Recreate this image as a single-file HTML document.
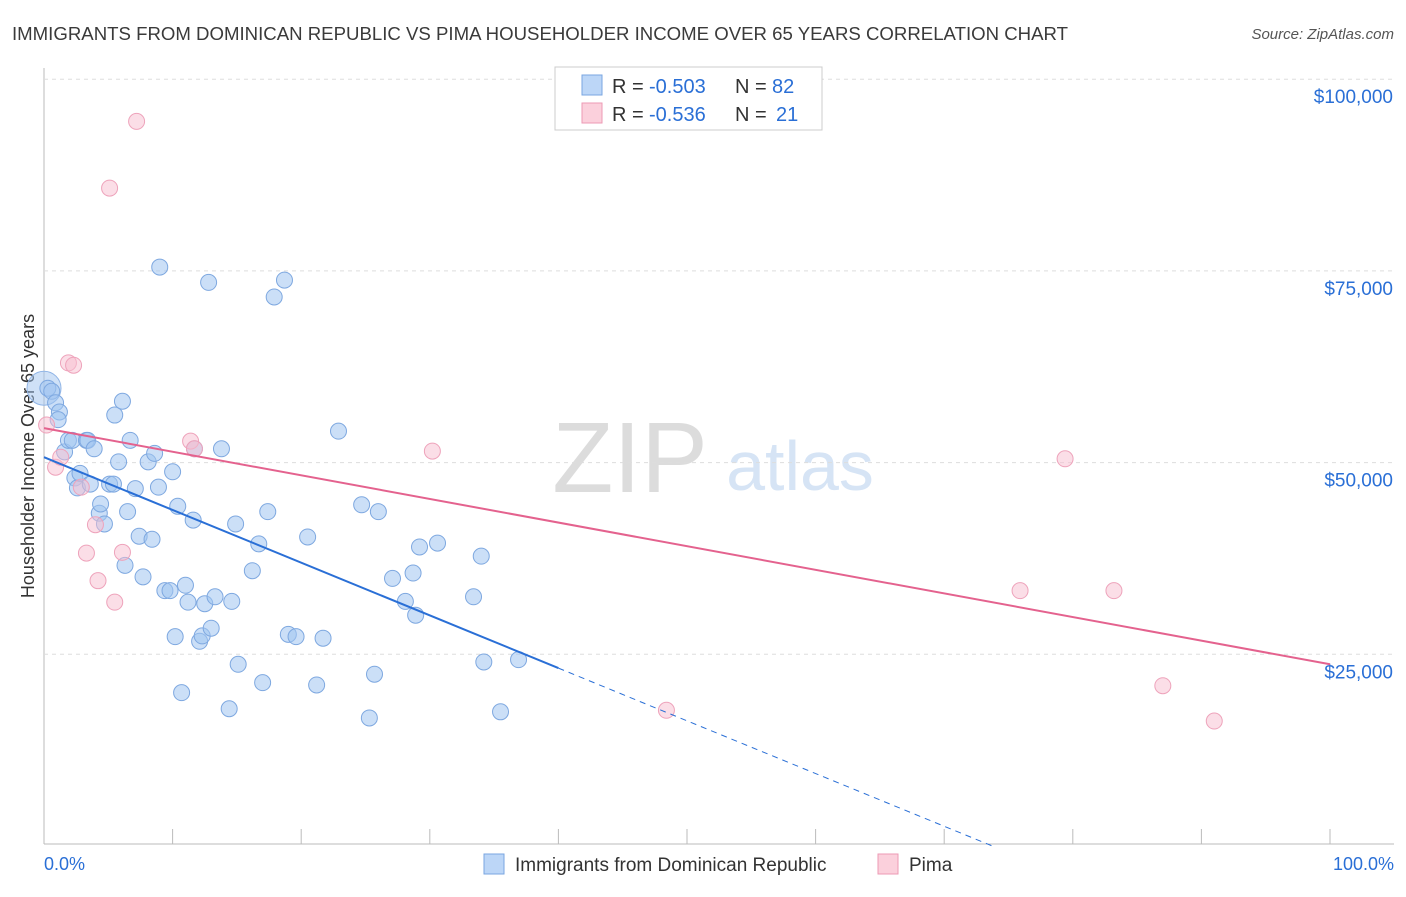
<!DOCTYPE html>
<html><head><meta charset="utf-8"><style>
body{margin:0;background:#fff;font-family:"Liberation Sans",sans-serif;}
svg text{font-family:"Liberation Sans",sans-serif;}
</style></head><body>
<svg id="c" width="1406" height="892">
<text x="12" y="40" font-size="18" fill="#3a3a3a" textLength="1056" lengthAdjust="spacingAndGlyphs">IMMIGRANTS FROM DOMINICAN REPUBLIC VS PIMA HOUSEHOLDER INCOME OVER 65 YEARS CORRELATION CHART</text>
<text x="1394" y="39" font-size="15" fill="#555" text-anchor="end" font-style="italic">Source: ZipAtlas.com</text>
<text x="630" y="492" font-size="100" fill="#dcdcdc" font-family="Liberation Serif" text-anchor="middle">ZIP</text>
<text x="800" y="490" font-size="70" fill="#d6e4f5" text-anchor="middle">atlas</text>
<text transform="translate(34,456) rotate(-90)" font-size="18" fill="#333" text-anchor="middle">Householder Income Over 65 years</text>
<g id="grid"></g><g id="marks"></g>
<rect x="555" y="67" width="267" height="63" fill="#fff" stroke="#ccc"/>
<rect x="582" y="75" width="20" height="20" fill="#bcd6f7" stroke="#7aa6e0"/>
<rect x="582" y="103" width="20" height="20" fill="#fbd0dc" stroke="#ec9ab4"/>
<text y="93" font-size="20" fill="#333"><tspan x="612">R =</tspan><tspan x="649" fill="#2a6fd6">-0.503</tspan><tspan x="735">N =</tspan><tspan x="772" fill="#2a6fd6">82</tspan></text>
<text y="121" font-size="20" fill="#333"><tspan x="612">R =</tspan><tspan x="649" fill="#2a6fd6">-0.536</tspan><tspan x="735">N =</tspan><tspan x="776" fill="#2a6fd6">21</tspan></text>
<rect x="484" y="854" width="20" height="20" fill="#bcd6f7" stroke="#7aa6e0"/>
<text x="515" y="871" font-size="19" fill="#333">Immigrants from Dominican Republic</text>
<rect x="878" y="854" width="20" height="20" fill="#fbd0dc" stroke="#ec9ab4"/>
<text x="909" y="871" font-size="19" fill="#333">Pima</text>
<text x="44" y="870" font-size="18" fill="#2a6fd6">0.0%</text>
<text x="1394" y="870" font-size="18" fill="#2a6fd6" text-anchor="end">100.0%</text>
</svg>
<script>
const blueX=[0.3,0.6,0.9,1.2,1.1,1.6,1.9,2.2,2.4,2.6,2.8,3.3,3.4,3.9,3.6,4.3,4.4,4.7,5.1,5.4,5.5,5.8,6.1,6.3,6.5,6.7,7.1,7.4,7.7,8.1,8.4,8.6,8.9,9.0,9.4,9.8,10.0,10.2,10.4,10.7,11.0,11.2,11.6,11.7,12.1,12.3,12.5,12.8,13.0,13.3,13.8,14.4,14.6,14.9,15.1,16.2,16.7,17.0,17.4,17.9,18.7,19.0,19.6,20.5,21.2,21.7,22.9,24.7,25.3,25.7,26.0,27.1,28.1,28.7,28.9,29.2,30.6,33.4,34.0,34.2,35.5,36.9];
const blueY=[59.7,59.3,57.8,56.6,55.6,51.4,52.9,52.9,48.0,46.7,48.6,52.9,52.9,51.8,47.2,43.4,44.6,42.0,47.2,47.2,56.2,50.1,58.0,36.6,43.6,52.9,46.6,40.4,35.1,50.1,40.0,51.2,46.8,75.5,33.3,33.3,48.8,27.3,44.3,20.0,34.0,31.8,42.5,51.8,26.7,27.4,31.6,73.5,28.4,32.5,51.8,17.9,31.9,42.0,23.7,35.9,39.4,21.3,43.6,71.6,73.8,27.6,27.3,40.3,21.0,27.1,54.1,44.5,16.7,22.4,43.6,34.9,31.9,35.6,30.1,39.0,39.5,32.5,37.8,24.0,17.5,24.3];
const pinkX=[0.2,0.9,1.3,1.9,2.3,2.9,3.3,4.0,4.2,5.1,5.5,6.1,7.2,11.4,11.7,30.2,48.4,75.9,79.4,83.2,87.0,91.0];
const pinkY=[54.9,49.4,50.7,63.0,62.7,46.8,38.2,41.9,34.6,85.8,31.8,38.3,94.5,52.8,51.8,51.5,17.7,33.3,50.5,33.3,20.9,16.3];
const yTicks=[25,50,75,100];
const yTickLabels=["$25,000","$50,000","$75,000","$100,000"];
const blueLine=[50.7,23.2]; // value at x=0 and x=40
const pinkLine=[54.5,23.7]; // value at x=0 and x=100
const NS="http://www.w3.org/2000/svg";
const sx=v=>44+v*12.86, sy=v=>846-v*7.668;
const grid=document.getElementById('grid'), marks=document.getElementById('marks');
function mk(tag,attrs,parent){const e=document.createElementNS(NS,tag);for(const k in attrs)e.setAttribute(k,attrs[k]);parent.appendChild(e);return e;}
let ax=mk('line',{x1:44,y1:68,x2:44,y2:844,stroke:'#bbb'},grid);


let bx=mk('line',{x1:44,y1:844,x2:1394,y2:844,stroke:'#bbb'},grid);


for(let i=0;i<=10;i++){let t=mk('line',{x1:sx(i*10),y1:829,x2:sx(i*10),y2:844,stroke:'#bbb'},grid);

}
yTicks.forEach((v,i)=>{let g=mk('line',{x1:44,y1:sy(v),x2:1394,y2:sy(v),stroke:'#ddd','stroke-dasharray':'4,4'},grid);


let t=mk('text',{x:1393,y:sy(v)+24,'font-size':19,fill:'#2a6fd6','text-anchor':'end'},grid);t.textContent=yTickLabels[i];

});
let big=mk('circle',{cx:sx(0),cy:sy(59.7),r:17,fill:'rgba(160,196,240,0.5)',stroke:'#8fb4e6'},marks);


blueX.forEach((x,i)=>{let c=mk('circle',{cx:sx(x),cy:sy(blueY[i]),r:8,fill:'rgba(160,196,240,0.55)',stroke:'#7ea8e0'},marks);

});
pinkX.forEach((x,i)=>{let c=mk('circle',{cx:sx(x),cy:sy(pinkY[i]),r:8,fill:'rgba(248,190,208,0.5)',stroke:'#eea3bb'},marks);

});
const bs=(blueLine[1]-blueLine[0])/40, x0=-blueLine[0]/bs;
let l1=mk('line',{x1:sx(0),y1:sy(blueLine[0]),x2:sx(40),y2:sy(blueLine[1]),stroke:'#2a6fd6','stroke-width':2},marks);


let l2=mk('line',{x1:sx(40),y1:sy(blueLine[1]),x2:sx(x0),y2:sy(0),stroke:'#2a6fd6','stroke-width':1,'stroke-dasharray':'6,5'},marks);


let l3=mk('line',{x1:sx(0),y1:sy(pinkLine[0]),x2:sx(100),y2:sy(pinkLine[1]),stroke:'#e4628e','stroke-width':2},marks);


</script>
</body></html>
